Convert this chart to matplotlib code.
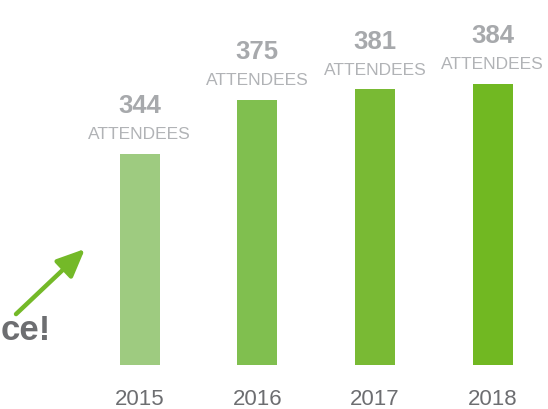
import matplotlib.pyplot as plt
from matplotlib.patches import FancyArrowPatch

years = ["2015", "2016", "2017", "2018"]
attendees = [344, 375, 381, 384]
bar_colors = ["#9ecb80", "#80bf4f", "#79ba34", "#71b822"]

font = "Liberation Sans"

W, H = 548, 410
fig = plt.figure(figsize=(W / 100, H / 100), dpi=100)

# baseline sits 44 px above the bottom; bars start at `base`, not zero
base = 223.6
scale = 1.752  # px per attendee
ax = fig.add_axes([0, 44 / H, 1, (H - 44) / H])
step = 117.7
x0 = 139.5
ax.set_xlim(-x0 / step, (W - x0) / step)
ax.set_ylim(base, base + (H - 44) / scale)
ax.axis("off")

xs = range(len(years))
ax.bar(xs, [v - base for v in attendees], bottom=base, width=40 / step,
       color=bar_colors)

for x, v, yr in zip(xs, attendees, years):
    ax.annotate(str(v), (x, v), xytext=(0, 35), textcoords="offset points",
                ha="center", va="center", fontsize=18.5, fontweight="bold",
                color="#a7a9ac", family=font, annotation_clip=False)
    ax.annotate("ATTENDEES", (x, v), xytext=(0, 14.5), textcoords="offset points",
                ha="center", va="center", fontsize=12.5, color="#b1b3b6",
                family=font, annotation_clip=False)
    ax.annotate(yr, (x, base), xytext=(0, -24), textcoords="offset points",
                ha="center", va="center", fontsize=16, color="#6d6e71",
                family=font, annotation_clip=False)

fig.text(0.5 / W, 1 - 331 / H, "ce!", ha="left", va="center", fontsize=25,
         fontweight="bold", color="#6d6e71", family=font)

fig.patches.append(FancyArrowPatch(
    (14 / W, 1 - 317 / H), (87 / W, 1 - 248 / H), transform=fig.transFigure,
    arrowstyle="-|>,head_length=17,head_width=7.5", mutation_scale=1,
    color="#74b928", linewidth=3.2))

fig.savefig("out.png", dpi=100)
